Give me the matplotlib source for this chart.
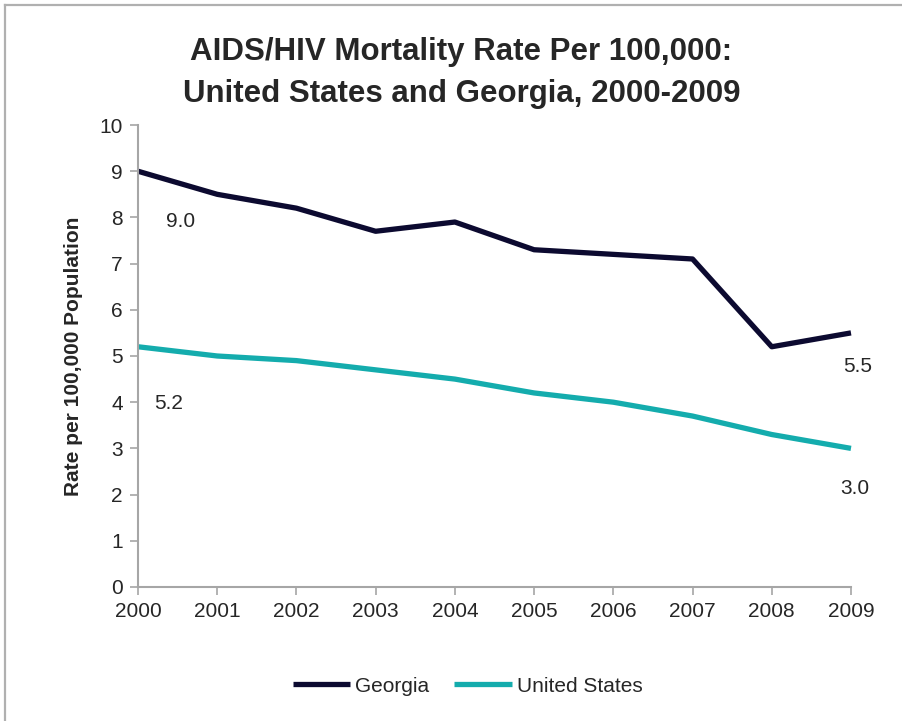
import numpy as np
import matplotlib.pyplot as plt
from matplotlib.lines import Line2D

plt.rcParams['font.family'] = ['Liberation Sans', 'DejaVu Sans']

years = [2000, 2001, 2002, 2003, 2004, 2005, 2006, 2007, 2008, 2009]
georgia = [9.0, 8.5, 8.2, 7.7, 7.9, 7.3, 7.2, 7.1, 5.2, 5.5]
united_states = [5.2, 5.0, 4.9, 4.7, 4.5, 4.2, 4.0, 3.7, 3.3, 3.0]

ga_color = '#0c0a30'
us_color = '#14acad'
axis_gray = '#a6a6a6'
text_color = '#262626'

fig = plt.figure(figsize=(9.03, 7.21), dpi=100)
ax = fig.add_axes([0.1528, 0.1859, 0.7896, 0.6407])

ax.plot(years, georgia, color=ga_color, lw=3.8, solid_capstyle='butt',
        solid_joinstyle='round', label='Georgia', clip_on=False)
ax.plot(years, united_states, color=us_color, lw=3.8, solid_capstyle='butt',
        solid_joinstyle='round', label='United States', clip_on=False)

# value labels at the first and last points of each series
for series, offs in ((georgia, [(31, -36), (5, -24)]),
                     (united_states, [(22, -41), (3, -29)])):
    for i, (dx, dy) in zip((0, -1), offs):
        ax.annotate(f'{series[i]:.1f}', (years[i], series[i]),
                    xytext=(dx, dy), textcoords='offset points',
                    ha='center', va='center', fontsize=15, color=text_color)

ax.set_xlim(2000, 2009)
ax.set_ylim(0, 10)
ax.set_xticks(years)
ax.set_yticks(range(0, 11))
ax.tick_params(axis='both', labelsize=15, colors=axis_gray, labelcolor=text_color,
               length=6, width=1.2)
ax.tick_params(axis='y', pad=5)
ax.tick_params(axis='x', pad=5)
for side in ('top', 'right'):
    ax.spines[side].set_visible(False)
for side in ('left', 'bottom'):
    ax.spines[side].set_color(axis_gray)
    ax.spines[side].set_linewidth(1.5)

ax.set_ylabel('Rate per 100,000 Population', fontsize=15, fontweight='bold',
              color=text_color, labelpad=12)

fig.text(0.511, 0.899, 'AIDS/HIV Mortality Rate Per 100,000:\nUnited States and Georgia, 2000-2009',
         ha='center', va='center', fontsize=22.5, fontweight='bold',
         color=text_color, linespacing=1.5)

fig.legend(loc='center', bbox_to_anchor=(0.518, 0.0485), ncol=2, frameon=False,
           fontsize=15, handlelength=2.75, handletextpad=0.25, columnspacing=1.2,
           labelcolor=text_color)

# thin frame along the top and left edges
fig.add_artist(Line2D([0.0055, 0.0055], [0.0, 0.993], transform=fig.transFigure,
                      color='#b0b0b0', lw=1.6))
fig.add_artist(Line2D([0.0055, 1.0], [0.993, 0.993], transform=fig.transFigure,
                      color='#b0b0b0', lw=1.6))

fig.savefig('out.png', dpi=100, facecolor='white')
